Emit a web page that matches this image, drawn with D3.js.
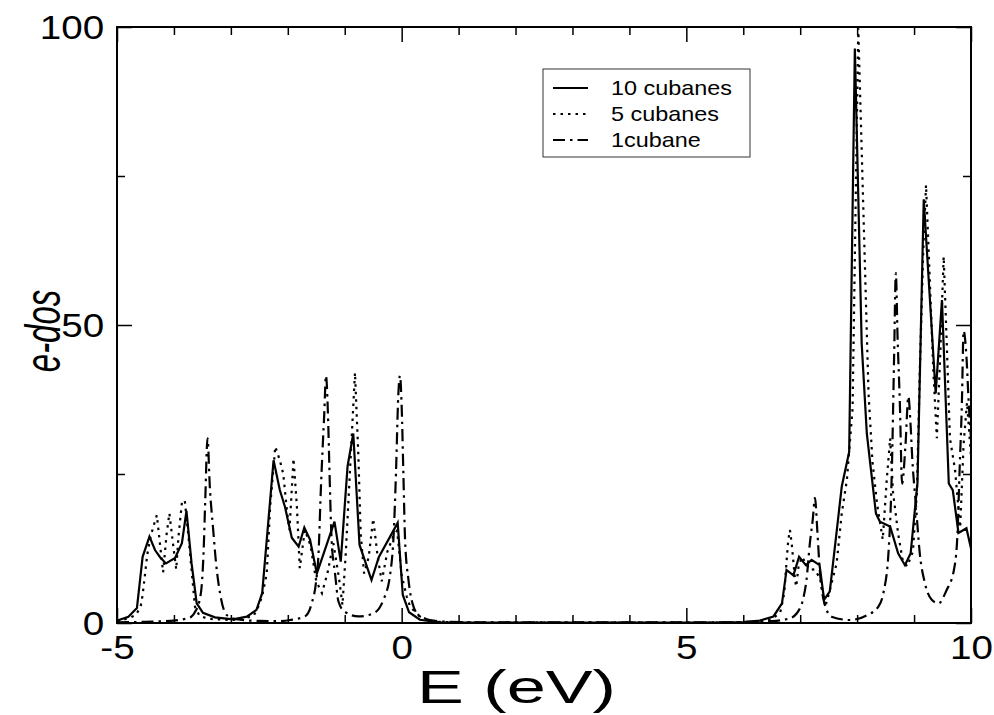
<!DOCTYPE html>
<html lang="en">
<head>
<meta charset="UTF-8">
<title>e-dos</title>
<script src="https://d3js.org/d3.v7.min.js"></script>
<style>
  body { margin: 0; background: #fff; }
  text { font-family: "Liberation Sans", Arial, Helvetica, sans-serif; fill: #000; }
  .frame { fill: none; stroke: #000; stroke-width: 2; }
  .tick line { stroke: #000; stroke-width: 1.5; }
</style>
</head>
<body>
<svg width="994" height="715"></svg>
<script>
// axis setup
const xMajor = [-5, 0, 5, 10];
const xMinor = [-4, -3, -2, -1, 1, 2, 3, 4, 6, 7, 8, 9];
const yMajor = [0, 50, 100];
const yMinor = [25, 75];
const seriesNames = ["10 cubanes", "5 cubanes", "1cubane"];

// [E (eV), e-dos]
const tenCubanes = [
  [-5.0,0.4],[-4.8,1.06],[-4.65,2.5],[-4.55,11.1],[-4.43,14.5],[-4.33,12.2],[-4.24,11.0],[-4.14,10.0],
  [-3.98,10.9],[-3.86,13.4],[-3.78,18.8],[-3.69,10],[-3.60,3.3],[-3.49,1.7],[-3.28,0.95],[-2.96,0.6],
  [-2.72,1.06],[-2.55,2.2],[-2.45,5],[-2.25,27.3],[-2.14,22.3],[-2.05,19.5],[-1.93,14.3],[-1.81,12.8],
  [-1.71,16],[-1.61,14],[-1.49,8.3],[-1.18,17],[-1.07,10.3],[-0.95,26.3],[-0.85,31.8],[-0.74,13.1],
  [-0.53,7.2],[-0.40,11.1],[-0.07,16.8],[0.02,4.7],[0.13,1.8],[0.32,0.55],[0.67,0.1],[1.5,0.05],
  [5.5,0.05],[6.0,0.15],[6.29,0.4],[6.53,1.1],[6.68,3.3],[6.76,8.9],[6.88,8.0],[6.98,11.1],[7.10,9.7],
  [7.20,10.6],[7.34,9.7],[7.42,3.9],[7.52,5.3],[7.63,14.5],[7.73,22.9],[7.86,28.7],[7.96,96.4],
  [8.08,46.9],[8.17,31.8],[8.25,25.1],[8.33,18.4],[8.40,17.0],[8.58,16.2],[8.72,11.7],[8.84,9.7],
  [8.94,11.7],[9.06,23.5],[9.17,71.1],[9.38,38.5],[9.49,54.2],[9.61,23.4],[9.68,22.3],[9.78,15.1],
  [9.92,15.9],[10.0,12.5]
];

const fiveCubanes = [
  [-5.0,0.3],[-4.8,0.8],[-4.7,1.2],[-4.65,1.6],[-4.58,3],[-4.55,4.7],[-4.51,8],[-4.47,11.4],[-4.41,14.5],
  [-4.36,16.2],[-4.30,18.1],[-4.24,12.8],[-4.19,8.5],[-4.13,14.8],[-4.08,18.4],[-4.01,12.8],[-3.96,9.0],
  [-3.92,14.5],[-3.86,20.2],[-3.81,20.6],[-3.75,15],[-3.69,8.9],[-3.63,2.7],[-3.55,1.2],[-3.4,0.7],
  [-3.0,0.5],[-2.8,0.7],[-2.6,1.2],[-2.52,2.7],[-2.45,4.5],[-2.37,8.3],[-2.31,19.5],[-2.22,29.6],
  [-2.14,27.3],[-2.08,25],[-2.01,18.4],[-1.97,15.6],[-1.90,27.6],[-1.84,19.5],[-1.79,9.2],[-1.70,15.6],
  [-1.60,13],[-1.50,7],[-1.40,5],[-1.30,8.5],[-1.20,13.4],[-1.10,7.5],[-1.04,3],[-0.98,12],[-0.90,27],
  [-0.82,42],[-0.76,28],[-0.72,15],[-0.66,8.3],[-0.58,11],[-0.50,17.5],[-0.42,11],[-0.35,7],[-0.25,12],
  [-0.15,14.5],[-0.08,15.5],[0.0,8],[0.09,4.4],[0.15,2.7],[0.32,1.1],[0.56,0.2],[1.5,0.05],[5.5,0.05],
  [6.2,0.2],[6.5,0.6],[6.65,1.8],[6.72,5],[6.76,10.3],[6.79,13.9],[6.82,15.6],[6.85,13.4],[6.91,7.2],
  [6.93,6.1],[6.97,9.4],[7.03,11.1],[7.10,10],[7.17,8.9],[7.25,9.0],[7.35,7.5],[7.44,2.7],[7.52,5.5],
  [7.64,10],[7.73,18.4],[7.82,24],[7.92,36],[8.02,99.8],[8.20,38.5],[8.27,27],[8.35,20],[8.45,14],
  [8.52,24],[8.58,31],[8.63,22],[8.72,15],[8.80,10.5],[8.88,9.5],[8.98,12],[9.05,22],[9.10,42],
  [9.16,62],[9.21,73.5],[9.27,59],[9.34,42],[9.40,31],[9.46,45],[9.52,61.5],[9.57,48],[9.63,31],
  [9.72,25.7],[9.81,16],[9.87,30],[9.93,37],[10.0,28]
];

const oneCubane = [
  [-5.0,0.1],[-4.5,0.2],[-4.0,0.4],[-3.8,0.7],[-3.7,1.0],[-3.62,2.0],[-3.55,3.8],[-3.51,6.5],[-3.48,11.7],
  [-3.45,20.6],[-3.41,31],[-3.37,22.9],[-3.31,15.6],[-3.26,10],[-3.19,5],[-3.10,1.7],[-3.0,0.9],[-2.8,0.5],
  [-2.5,0.35],[-2.2,0.3],[-1.96,0.5],[-1.70,1.1],[-1.58,3.3],[-1.50,7.2],[-1.46,11.7],[-1.42,22.3],
  [-1.39,29],[-1.36,35],[-1.33,41.5],[-1.29,33.5],[-1.27,26.2],[-1.23,13.9],[-1.17,8.3],[-1.11,3.6],
  [-1.0,1.9],[-0.76,1.1],[-0.50,1.6],[-0.32,3.9],[-0.20,8.3],[-0.14,15],[-0.10,25.1],[-0.06,38],
  [-0.03,41.5],[0.0,36.3],[0.03,25.1],[0.06,13.9],[0.12,7.2],[0.19,3.3],[0.32,1.1],[0.5,0.5],[0.8,0.2],
  [1.5,0.1],[5.5,0.1],[6.0,0.15],[6.5,0.3],[6.82,0.8],[6.98,2.2],[7.05,4],[7.11,7.2],[7.17,13.4],
  [7.22,17.3],[7.26,21],[7.30,15.6],[7.34,9.4],[7.41,3.9],[7.55,1.06],[7.87,0.5],[8.17,1.3],[8.37,2.7],
  [8.46,5],[8.55,11.7],[8.61,25.7],[8.65,45],[8.68,58.7],[8.71,48],[8.75,37],[8.79,23.4],[8.85,30],
  [8.90,38],[8.94,33],[8.97,27.3],[9.03,20.1],[9.10,11.7],[9.19,6.7],[9.31,3.9],[9.43,3.3],[9.57,5.5],
  [9.70,8.9],[9.76,14.5],[9.80,25.7],[9.84,36.9],[9.87,49],[9.92,44.7],[9.96,36.9],[10.0,31]
];

const svg = d3.select("svg"),
      width = +svg.attr("width"),
      height = +svg.attr("height");
const margin = { top: 27, right: 23, bottom: 92, left: 117 };
const w = width - margin.left - margin.right,
      h = height - margin.top - margin.bottom;

const x = d3.scaleLinear().domain([-5, 10]).range([0, w]);
const y = d3.scaleLinear().domain([0, 100]).range([h, 0]);

const g = svg.append("g").attr("transform", `translate(${margin.left},${margin.top})`);

g.append("clipPath").attr("id", "plot")
  .append("rect").attr("width", w).attr("height", h);

// curves
const styles = [
  { data: tenCubanes, dash: null, curve: d3.curveLinear },
  { data: fiveCubanes, dash: "2.5,5", curve: d3.curveLinear },
  { data: oneCubane, dash: "12,5,2.5,5", curve: d3.curveMonotoneX }
];

const curves = g.append("g").attr("clip-path", "url(#plot)");
styles.forEach(s => {
  curves.append("path")
    .datum(s.data)
    .attr("fill", "none")
    .attr("stroke", "#000")
    .attr("stroke-width", 2.2)
    .attr("stroke-dasharray", s.dash)
    .attr("d", d3.line().x(d => x(d[0])).y(d => y(d[1])).curve(s.curve));
});

// ticks, pointing inwards on all four sides
const fmt = d => String(d);   // plain hyphen, like the original
const stretch = "scale(1.17,1)"; // the original text is a bit wide

g.append("g").attr("transform", `translate(0,${h})`)
  .call(d3.axisBottom(x).tickValues(xMajor).tickSize(-15).tickPadding(10).tickFormat(fmt))
  .call(a => a.select(".domain").remove())
  .call(a => a.selectAll("text").attr("font-size", 33).attr("dy", "0.72em")
    .attr("transform", "translate(0,2) " + stretch));
g.append("g").attr("transform", `translate(0,${h})`)
  .call(d3.axisBottom(x).tickValues(xMinor).tickSize(-8).tickFormat(""))
  .call(a => a.select(".domain").remove());
g.append("g")
  .call(d3.axisTop(x).tickValues(xMajor).tickSize(-15).tickFormat(""))
  .call(a => a.select(".domain").remove());
g.append("g")
  .call(d3.axisTop(x).tickValues(xMinor).tickSize(-8).tickFormat(""))
  .call(a => a.select(".domain").remove());

g.append("g")
  .call(d3.axisLeft(y).tickValues(yMajor).tickSize(-15).tickPadding(11).tickFormat(fmt))
  .call(a => a.select(".domain").remove())
  .call(a => a.selectAll("text").attr("font-size", 33).attr("dy", "0.36em").attr("transform", stretch));
g.append("g")
  .call(d3.axisLeft(y).tickValues(yMinor).tickSize(-8).tickFormat(""))
  .call(a => a.select(".domain").remove());
g.append("g").attr("transform", `translate(${w},0)`)
  .call(d3.axisRight(y).tickValues(yMajor).tickSize(-15).tickFormat(""))
  .call(a => a.select(".domain").remove());
g.append("g").attr("transform", `translate(${w},0)`)
  .call(d3.axisRight(y).tickValues(yMinor).tickSize(-8).tickFormat(""))
  .call(a => a.select(".domain").remove());

g.append("rect").attr("class", "frame").attr("width", w).attr("height", h);

// axis titles
svg.append("text")
  .attr("x", 417)
  .attr("y", 703)
  .attr("font-size", 46)
  .attr("textLength", 199)
  .attr("lengthAdjust", "spacingAndGlyphs")
  .text("E (eV)");

svg.append("text")
  .attr("transform", `translate(60,${margin.top + y(49)}) scale(1.5,1) rotate(-90)`)
  .attr("text-anchor", "middle")
  .attr("font-size", 33)
  .attr("font-style", "italic")
  .text("e-dos");

// legend
const legend = svg.append("g").attr("transform", "translate(543,69)");
legend.append("rect")
  .attr("width", 207).attr("height", 88)
  .attr("fill", "#fff").attr("stroke", "#333").attr("stroke-width", 1);
const rowY = d3.scalePoint().domain(seriesNames).range([19, 71]);
seriesNames.forEach((name, i) => {
  legend.append("line")
    .attr("x1", 10).attr("x2", 45)
    .attr("y1", rowY(name)).attr("y2", rowY(name))
    .attr("stroke", "#000").attr("stroke-width", 2)
    .attr("stroke-dasharray", styles[i].dash);
  legend.append("text")
    .attr("transform", `translate(68,${rowY(name)}) scale(1.17,1)`)
    .attr("dy", "0.35em")
    .attr("font-size", 20)
    .text(name);
});
</script>
</body>
</html>
